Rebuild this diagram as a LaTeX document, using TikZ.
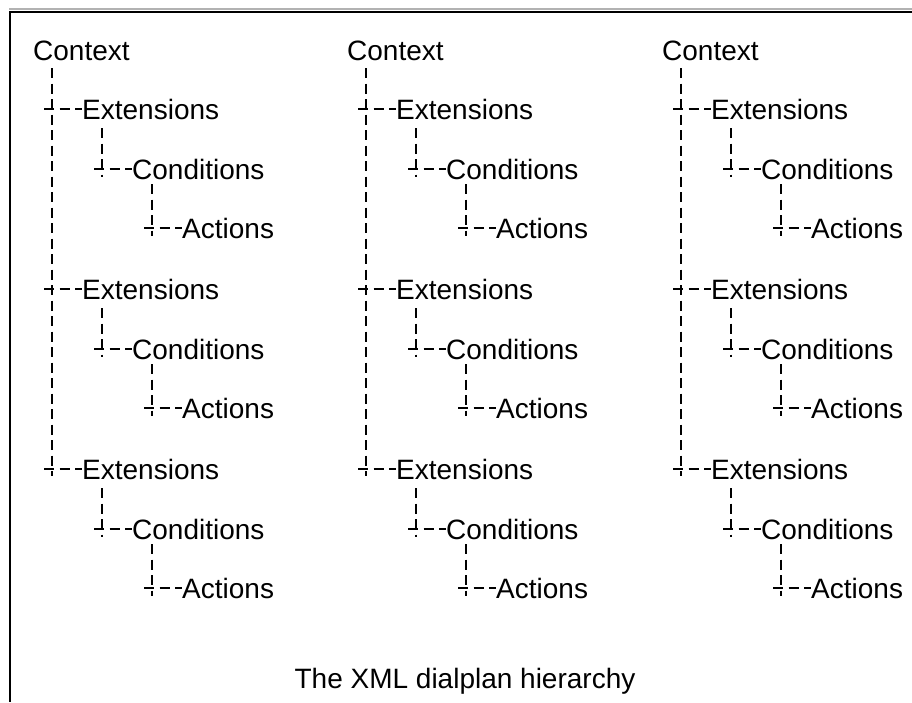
\documentclass[tikz,border=0pt]{standalone}
\usepackage{fontspec}
\setmainfont{Liberation Sans}
\tikzset{
  lbl/.style={anchor=base west, inner sep=0pt, font=\fontsize{28}{32}\selectfont},
  tree/.style={line width=2pt, dash pattern=on 10pt off 5.5pt},
  frameline/.style={line width=2pt, black},
}
\begin{document}
\begin{tikzpicture}[x=1pt,y=-1pt]
\useasboundingbox (0,0) rectangle (912,702);
% frame
\coordinate (ftr) at (912,11.5);
\coordinate (ftl) at (10,11.5);
\coordinate (fbl) at (10,702);
\draw[gray!60, line width=1.5pt] (9,9.2) -- (912,9.2);
\draw[frameline] (ftr) -- (ftl) -- (fbl);
% trees
\foreach \ox [count=\c] in {33,347,662} {
  \begin{scope}[shift={(\ox,0)}]
    \node[lbl] (ctx\c) at (0,60) {Context};
    \coordinate (ctxtop\c) at (19,68);
    \coordinate (ctxend\c) at (19,476);
    \draw[tree] (ctxtop\c) -- (ctxend\c);
    \foreach \k in {0,1,2} {
      \begin{scope}[shift={(0,180*\k)}]
        % Extensions
        \node[lbl] (ext\c\k) at (49,119) {Extensions};
        \coordinate (ej\c\k) at (11,109);
        \draw[tree] (ej\c\k) -- (ej\c\k -| ext\c\k.west);
        \coordinate (etop\c\k) at (69,128);
        \coordinate (eend\c\k) at (69,177);
        \draw[tree] (etop\c\k) -- (eend\c\k);
        % Conditions
        \node[lbl] (cond\c\k) at (99,179) {Conditions};
        \coordinate (cj\c\k) at (61,169);
        \draw[tree] (cj\c\k) -- (cj\c\k -| cond\c\k.west);
        \coordinate (ctop\c\k) at (119,184);
        \coordinate (cend\c\k) at (119,236);
        \draw[tree] (ctop\c\k) -- (cend\c\k);
        % Actions
        \node[lbl] (act\c\k) at (149,238) {Actions};
        \coordinate (aj\c\k) at (111,228);
        \draw[tree] (aj\c\k) -- (aj\c\k -| act\c\k.west);
      \end{scope}
    }
  \end{scope}
}
\node[anchor=base, inner sep=0pt, font=\fontsize{28}{32}\selectfont] (caption) at (465,688) {The XML dialplan hierarchy};
\end{tikzpicture}
\end{document}
